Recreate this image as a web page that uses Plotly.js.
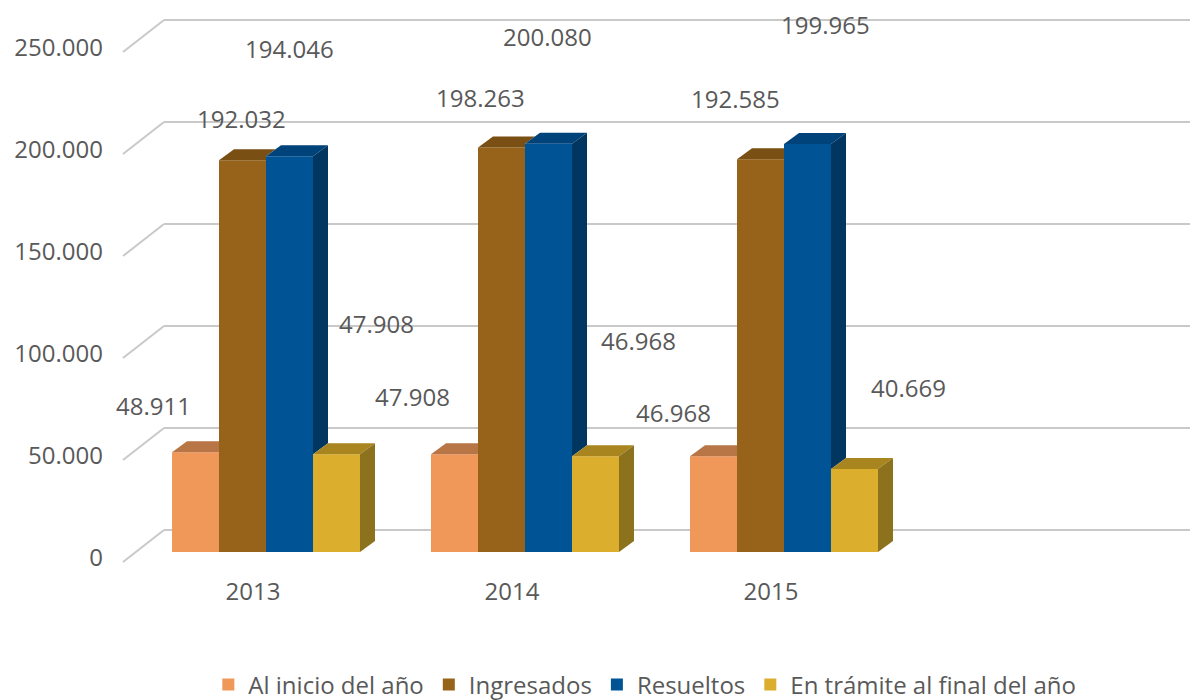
<!DOCTYPE html>
<html>
<head>
<meta charset="utf-8">
<script src="https://cdn.plot.ly/plotly-3.0.1.min.js"></script>
<style>html,body{margin:0;padding:0;background:#fff;}#chart{width:1190px;height:700px;}</style>
</head>
<body>
<div id="chart"></div>
<script>
// ---------- DATA ----------
const categories = ['2013', '2014', '2015'];
const seriesNames = ['Al inicio del año', 'Ingresados', 'Resueltos', 'En trámite al final del año'];
const alInicio   = [48911, 47908, 46968];
const ingresados = [192032, 198263, 192585];
const resueltos  = [194046, 200080, 199965];
const enTramite  = [47908, 46968, 40669];
const yTickVals  = [0, 50000, 100000, 150000, 200000, 250000];

// ---------- STYLE ----------
const frontColors = ['#F0975A', '#97631B', '#005496', '#DCAE2E'];
const topColors   = ['#B87546', '#7A4F13', '#00427A', '#A8851F'];
const sideColors  = ['#A8673C', '#6A4410', '#003660', '#8C721C'];
const textColor = '#595959';
const fontFamily = '"Open Sans", "Noto Sans", sans-serif';
const FONT_SIZE = 24;
// label offsets in px (x right, y up) from the top-front centre of each bar [series][category]
const labelShiftX = [[-42, -42, -40], [-1, -21, -25], [0, -1, 18], [40, 43, 54]];
const labelShiftY = [[47, 58, 44], [42, 50, 61], [108, 107, 120], [131, 116, 82]];

// ---------- GEOMETRY ----------
const W = 1190, H = 700;
const M = {l: 104, r: 0, t: 0, b: 125, autoexpand: false};
const PX_PER_CAT = 259, CAT0_PX = 266;
const PX_PER_UNIT = 102 / 50000;
const ZERO_PX = 552;          // bar front baseline (page px)
const LABEL_ZERO_PX = 558;    // y tick label baseline position
const BARGAP = 1 - 188 / 259;
const BAR_DX_PX = 15, BAR_DY_PX = 11;       // bar depth
const WALL_DY_PX = 22;                       // back wall behind bar front
const FLOOR_DY_PX = 10;                      // floor front in front of bar front
const WALL_LEFT_FRONT_PX = 123, WALL_LEFT_BACK_PX = 164;
const CAT_LABEL_SHIFT_PX = 13;

const plotH = H - M.t - M.b;
const px2x = px => (px - CAT0_PX) / PX_PER_CAT;
const dpx2y = d => d / PX_PER_UNIT;
const xRange = [px2x(M.l), px2x(W - M.r)];
const yRange = [(ZERO_PX - M.t - plotH) / PX_PER_UNIT, (ZERO_PX - M.t) / PX_PER_UNIT];
const yRange2 = [(LABEL_ZERO_PX - M.t - plotH) / PX_PER_UNIT, (LABEL_ZERO_PX - M.t) / PX_PER_UNIT];
const xRange2 = [xRange[0] + CAT_LABEL_SHIFT_PX / PX_PER_CAT, xRange[1] + CAT_LABEL_SHIFT_PX / PX_PER_CAT];

const fmt = v => String(v).replace(/\B(?=(\d{3})+(?!\d))/g, '.');

const series = [alInicio, ingresados, resueltos, enTramite];
const xIdx = categories.map((c, i) => i);
const nS = series.length;
const barW = (1 - BARGAP) / nS;
const DX = BAR_DX_PX / PX_PER_CAT, DY = dpx2y(BAR_DY_PX);

const traces = [];
// front faces
series.forEach((vals, j) => {
  traces.push({
    type: 'bar', name: seriesNames[j], x: xIdx, y: vals,
    marker: {color: frontColors[j], line: {width: 0}},
    hoverinfo: 'skip'
  });
});
// top & side faces
xIdx.forEach(i => {
  series.forEach((vals, j) => {
    const v = vals[i];
    const next = j < nS - 1 ? series[j + 1][i] : 0;
    const xl = i - (1 - BARGAP) / 2 + j * barW, xr = xl + barW;
    const h = Math.max(0, Math.min(next - v, DY));
    const tx = [xl, xr, xr, xr + (DY - h) / DY * DX, xl + DX, xl];
    const ty = [v, v, v + h, v + DY, v + DY, v];
    traces.push({type: 'scatter', mode: 'lines', x: tx, y: ty, fill: 'toself',
      fillcolor: topColors[j], line: {width: 0, color: topColors[j]}, showlegend: false, hoverinfo: 'skip'});
    if (next < v) {
      traces.push({type: 'scatter', mode: 'lines',
        x: [xr, xr, xr + DX, xr + DX, xr], y: [next, v, v + DY, next + DY, next], fill: 'toself',
        fillcolor: sideColors[j], line: {width: 0, color: sideColors[j]}, showlegend: false, hoverinfo: 'skip'});
    }
  });
});

// gridlines (back wall + left wall)
const shapes = [];
const gridColor = '#C9C9C9';
yTickVals.forEach(v => {
  const yb = v + dpx2y(WALL_DY_PX), yf = v - dpx2y(FLOOR_DY_PX);
  shapes.push({type: 'line', xref: 'x', yref: 'y', layer: 'below',
    x0: px2x(WALL_LEFT_FRONT_PX), y0: yf, x1: px2x(WALL_LEFT_BACK_PX), y1: yb,
    line: {color: gridColor, width: 2}});
  shapes.push({type: 'line', xref: 'x', yref: 'y', layer: 'below',
    x0: px2x(WALL_LEFT_BACK_PX), y0: yb, x1: xRange[1], y1: yb,
    line: {color: gridColor, width: 2}});
});

// data labels
const annotations = [];
series.forEach((vals, j) => {
  vals.forEach((v, i) => {
    const xc = i - (1 - BARGAP) / 2 + (j + 0.5) * barW;
    annotations.push({x: xc, y: v, xref: 'x', yref: 'y', text: fmt(v), showarrow: false,
      xanchor: 'center', yanchor: 'middle', xshift: labelShiftX[j][i], yshift: labelShiftY[j][i],
      font: {family: fontFamily, size: FONT_SIZE, color: textColor}});
  });
});

const layout = {
  width: W, height: H, margin: M,
  paper_bgcolor: '#fff', plot_bgcolor: 'rgba(0,0,0,0)',
  barmode: 'group', bargap: BARGAP, bargroupgap: 0,
  font: {family: fontFamily, size: FONT_SIZE, color: textColor},
  xaxis: {range: xRange, showgrid: false, zeroline: false, showticklabels: false, showline: false, fixedrange: true},
  xaxis2: {range: xRange2, overlaying: 'x', anchor: 'y', side: 'bottom', tickmode: 'array',
    tickvals: xIdx, ticktext: categories, showgrid: false, zeroline: false, showline: false, ticks: '',
    tickfont: {family: fontFamily, size: FONT_SIZE, color: textColor}},
  yaxis: {range: yRange, showgrid: false, zeroline: false, showticklabels: false, showline: false},
  yaxis2: {range: yRange2, overlaying: 'y', side: 'left', anchor: 'x', tickmode: 'array',
    tickvals: yTickVals, ticktext: yTickVals.map(fmt), showgrid: false, zeroline: false, showline: false,
    ticks: '', tickfont: {family: fontFamily, size: FONT_SIZE, color: textColor}},
  shapes: shapes,
  annotations: annotations,
  showlegend: true,
  legend: {orientation: 'h', x: 0.498, xanchor: 'center', y: (plotH - (685 - M.t)) / plotH, yanchor: 'middle',
    font: {family: fontFamily, size: FONT_SIZE, color: textColor}, traceorder: 'normal'}
};
// an invisible trace so the overlaying axes render
traces.push({type: 'scatter', x: [xIdx[0]], y: [0], xaxis: 'x2', yaxis: 'y2', mode: 'markers',
  marker: {opacity: 0}, showlegend: false, hoverinfo: 'skip'});

Plotly.newPlot('chart', traces, layout, {displayModeBar: false, staticPlot: true});
</script>
</body>
</html>
